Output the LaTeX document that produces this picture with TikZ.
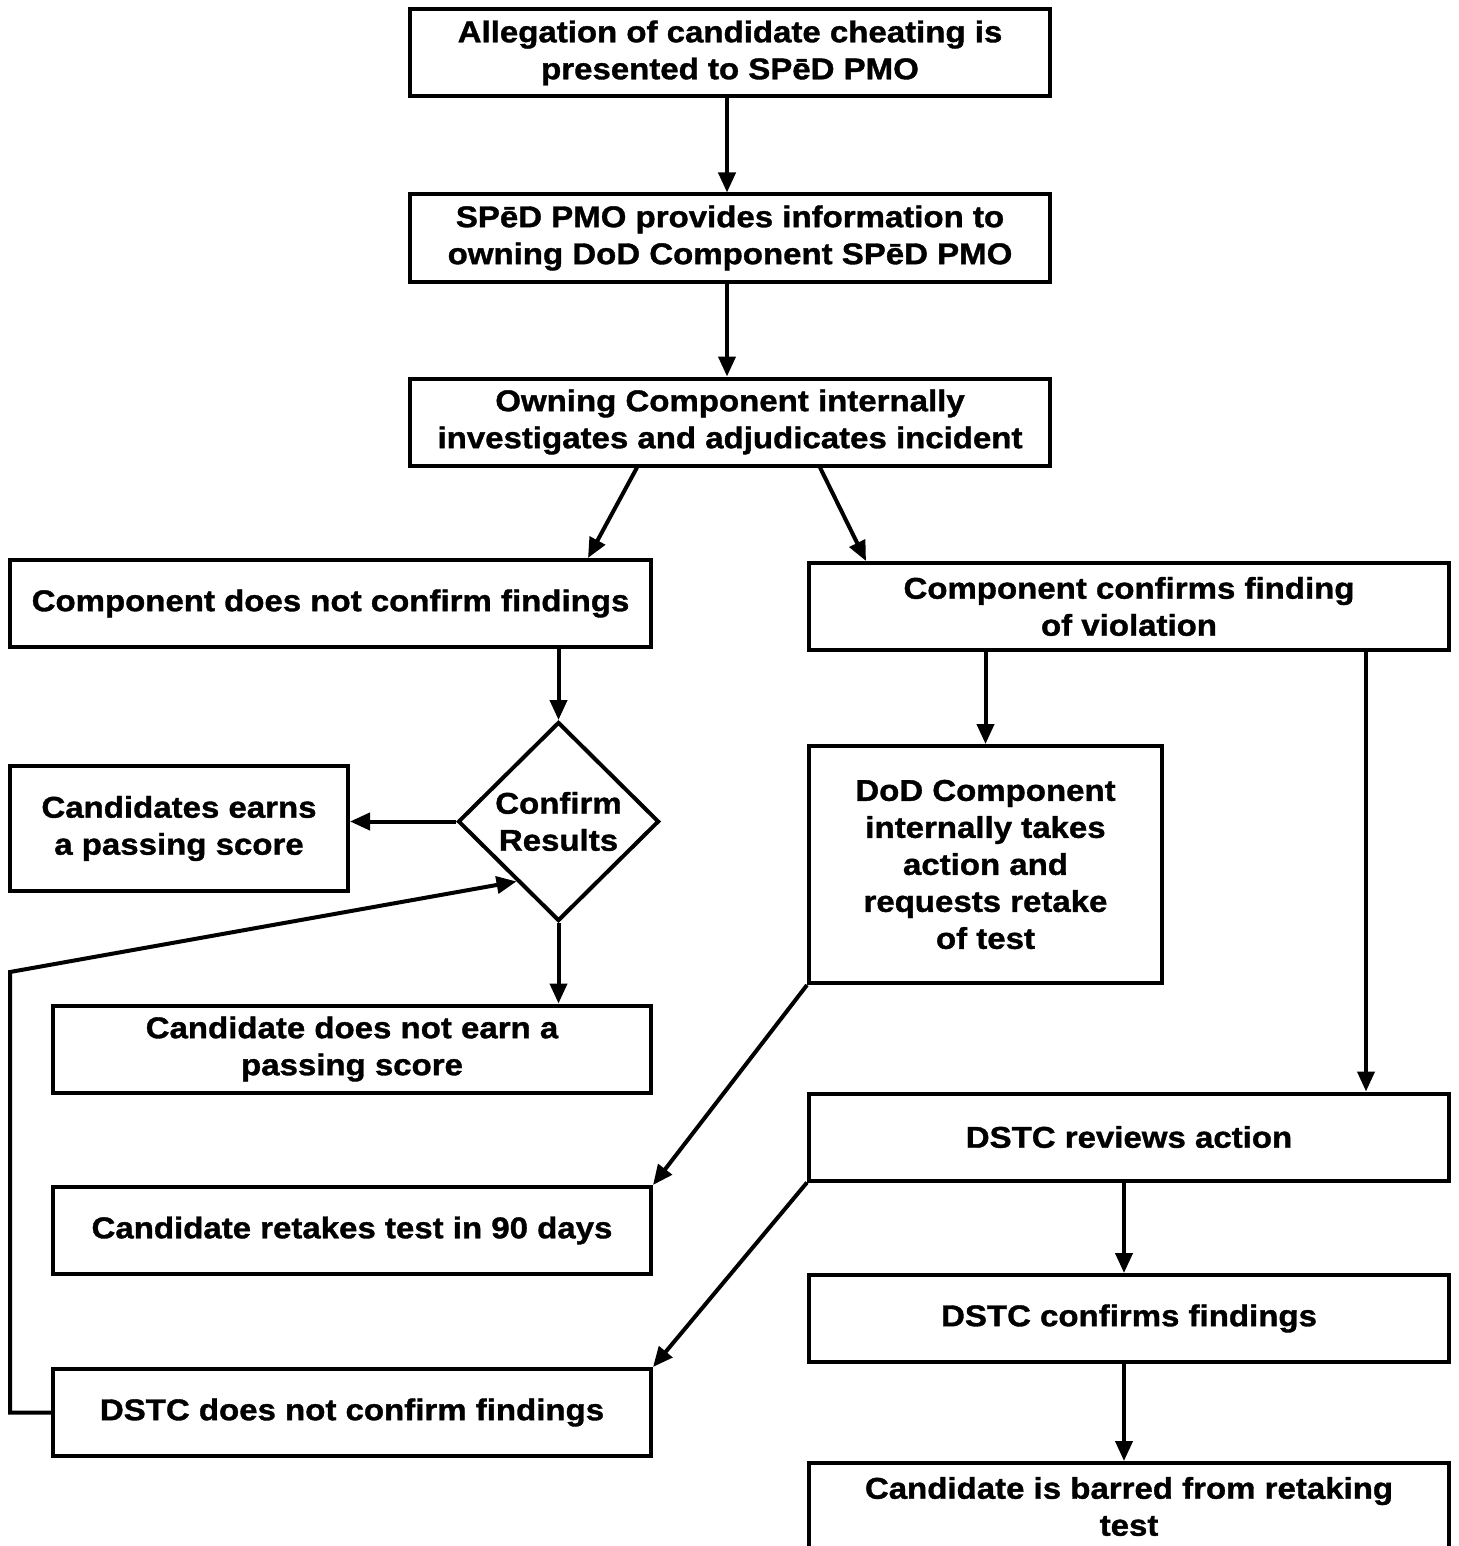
\documentclass[tikz,border=0pt]{standalone}
\usepackage{fontspec}
\newfontfamily\flowfont{Liberation Sans}[FakeStretch=1.1,BoldFeatures={FakeBold=1.2}]
\usetikzlibrary{shapes.geometric,arrows.meta}
\begin{document}
\begin{tikzpicture}[x=0.5pt,y=-0.5pt,line join=miter,
  font=\flowfont\bfseries\fontsize{15}{18.5}\selectfont,
  >={Triangle[length=10pt,width=8.5pt]},
  procbox/.style={draw,line width=2pt,align=center,inner sep=0pt,minimum height=43.5pt,minimum width=320pt},
  narrowbox/.style={procbox,minimum width=299pt},
  decision/.style={draw,diamond,line width=2pt,align=center,inner sep=0pt,minimum width=100.5pt,minimum height=99.5pt},
  arr/.style={->,line width=2pt}]
\useasboundingbox (0,0) rectangle (1458,1546);
% boxes
\node[procbox] (alleg) at (730,53) {Allegation of candidate cheating is\\presented to SPēD PMO};
\node[procbox] (inform) at (730,238) {SPēD PMO provides information to\\owning DoD Component SPēD PMO};
\node[procbox] (investig) at (730,422) {Owning Component internally\\investigates and adjudicates incident};
\node[procbox,minimum width=320.5pt] (noconf) at (330.5,603.5) {Component does not confirm findings};
\node[procbox] (conf) at (1129,606.5) {Component confirms finding\\of violation};
\node[decision] (results) at (558.5,821.5) {Confirm\\Results};
\node[procbox,minimum width=169pt,minimum height=62.5pt] (pass) at (179,828.5) {Candidates earns\\a passing score};
\node[narrowbox] (nopass) at (352,1049) {Candidate does not earn a\\passing score};
\node[procbox,minimum width=176.5pt,minimum height=118.5pt] (action) at (985.5,864.5) {DoD Component\\internally takes\\action and\\requests retake\\of test};
\node[narrowbox] (retake) at (352,1230.5) {Candidate retakes test in 90 days};
\node[procbox] (review) at (1129,1137) {DSTC reviews action};
\node[procbox] (dconf) at (1129,1318.5) {DSTC confirms findings};
\node[narrowbox] (dnoconf) at (352,1412.5) {DSTC does not confirm findings};
\node[procbox] (barred) at (1129,1506.5) {Candidate is barred from retaking\\test};
% connectors
\draw[arr] (alleg.south -| 727,0) -- (inform.north -| 727,0);
\draw[arr] (inform.south -| 727,0) -- (investig.north -| 727,0);
\draw[arr] (investig.south -| 637,0) -- (noconf.north -| 588,0);
\draw[arr] (investig.south -| 820,0) -- (conf.north -| 866,0);
\draw[arr] (noconf.south -| results.north) -- (results.north);
\draw[arr] (results.west) -- (results.west -| pass.east);
\draw[arr] (results.south) -- (results.south |- nopass.north);
\draw[arr] (conf.south -| action.north) -- (action.north);
\draw[arr] (conf.south -| 1366,0) -- (review.north -| 1366,0);
\draw[arr] (action.south west) -- (retake.north east);
\draw[arr] (review.south west) -- (dnoconf.north east);
\draw[arr] (review.south -| 1124,0) -- (dconf.north -| 1124,0);
\draw[arr] (dconf.south -| 1124,0) -- (barred.north -| 1124,0);
\draw[arr] (dnoconf.west) -- (dnoconf.west -| 10,0) -- (10,972) -- (results.235);
\end{tikzpicture}
\end{document}
